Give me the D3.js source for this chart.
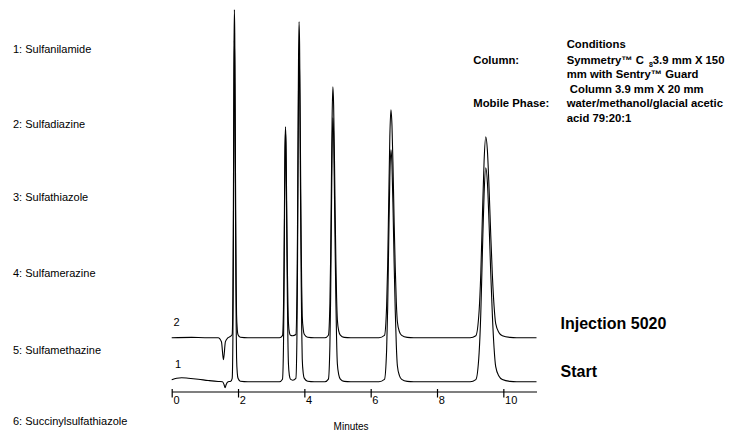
<!DOCTYPE html>
<html>
<head>
<meta charset="utf-8">
<script src="https://cdn.jsdelivr.net/npm/d3@7"></script>
<style>
  body { margin: 0; background: #fff; }
  text { font-family: "Liberation Sans", Arial, sans-serif; fill: #000; }
</style>
</head>
<body>
<div id="chart"></div>
<script>
const kSvgWidth = 730;
const kSvgHeight = 431;

// compounds listed on the left
const kCompounds = ["1: Sulfanilamide", "2: Sulfadiazine", "3: Sulfathiazole",
  "4: Sulfamerazine", "5: Sulfamethazine", "6: Succinylsulfathiazole"];

const kTickValues = [0, 2, 4, 6, 8, 10];
const kAxisLabel = "Minutes";
const kTraceLabels = ["1", "2"];
const kRunLabels = ["Start", "Injection 5020"];

const kCondTitle = "Conditions";
const kCondKeys = ["Column:", "Mobile Phase:"];
const kCondLines = ["mm with Sentry\u2122 Guard", " Column 3.9 mm X 20 mm",
  "water/methanol/glacial acetic", "acid 79:20:1"];

// trace 1 (Start): [minutes, signal]
const kTrace1 = [
  [0, 2], [0.15, 3.5], [0.3, 4], [0.5, 3.5], [0.8, 2.5], [1.1, 1.2], [1.4, 0.2], [1.53, 0],
  [1.58, -3], [1.61, -6], [1.64, -3], [1.7, 0], [1.78, 0.5],
  [1.824, 3.4], [1.846, 46], [1.857, 109], [1.868, 208], [1.879, 300], [1.89, 341],
  [1.901, 317], [1.912, 252], [1.923, 174], [1.934, 106], [1.945, 55], [1.956, 24],
  [1.978, 8.5], [2.0, 3.4], [2.07, 0.5], [2.3, 0], [3.25, 0],
  [3.34, 2.5], [3.37, 34], [3.385, 80], [3.4, 153], [3.415, 221], [3.43, 251],
  [3.445, 233], [3.46, 186], [3.475, 128], [3.49, 78], [3.505, 40], [3.52, 18],
  [3.55, 6], [3.58, 2.5], [3.65, 1.5],
  [3.744, 3.3], [3.776, 44], [3.792, 105], [3.808, 201], [3.824, 290], [3.84, 329],
  [3.856, 306], [3.872, 243], [3.888, 168], [3.904, 102], [3.92, 53], [3.936, 23],
  [3.968, 8], [4.0, 3.3], [4.1, 0.5], [4.3, 0], [4.62, 0],
  [4.725, 2.6], [4.77, 36], [4.7925, 84], [4.815, 161], [4.8375, 232], [4.86, 264],
  [4.8825, 246], [4.905, 195], [4.9275, 135], [4.95, 82], [4.9725, 42], [4.995, 18],
  [5.04, 6.6], [5.085, 2.6], [5.2, 0.3], [5.4, 0], [6.25, 0],
  [6.415, 2.3], [6.48, 31], [6.5125, 74], [6.545, 142], [6.5775, 204], [6.61, 232],
  [6.6425, 216], [6.675, 172], [6.7075, 118], [6.74, 72], [6.7725, 37], [6.805, 16],
  [6.87, 5.8], [6.935, 2.3], [7.1, 0.3], [7.3, 0], [9.0, 0],
  [9.17, 2.1], [9.27, 29], [9.32, 68], [9.37, 131], [9.42, 188], [9.47, 214],
  [9.52, 199], [9.57, 158], [9.62, 109], [9.67, 66], [9.72, 34], [9.77, 15],
  [9.87, 5.4], [9.97, 2.1], [10.2, 0.3], [10.4, 0], [11, 0]
];

// trace 2 (Injection 5020): [minutes, signal]
const kTrace2 = [
  [0, 0], [0.6, 0.3], [1.0, 0], [1.4, 0], [1.5, -4], [1.56, -22], [1.62, -4], [1.7, 0], [1.78, 1.5],
  [1.824, 3.3], [1.846, 44], [1.857, 105], [1.868, 200], [1.879, 289], [1.89, 328],
  [1.901, 305], [1.912, 243], [1.923, 167], [1.934, 102], [1.945, 52], [1.956, 23],
  [1.978, 8], [2.0, 3], [2.07, 0.5], [2.3, 0], [3.25, 0],
  [3.34, 2.1], [3.37, 28], [3.385, 68], [3.4, 129], [3.415, 186], [3.43, 211],
  [3.445, 196], [3.46, 156], [3.475, 108], [3.49, 65], [3.505, 34], [3.52, 15],
  [3.55, 5], [3.58, 2.5], [3.65, 2],
  [3.744, 3.2], [3.776, 43], [3.792, 101], [3.808, 193], [3.824, 278], [3.84, 316],
  [3.856, 294], [3.872, 234], [3.888, 161], [3.904, 98], [3.92, 51], [3.936, 22],
  [3.968, 8], [4.0, 3.2], [4.1, 0.5], [4.3, 0], [4.62, 0],
  [4.725, 2.5], [4.77, 34], [4.7925, 80], [4.815, 153], [4.8375, 221], [4.86, 251],
  [4.8825, 233], [4.905, 186], [4.9275, 128], [4.95, 78], [4.9725, 40], [4.995, 18],
  [5.04, 6.3], [5.085, 2.5], [5.2, 0.3], [5.4, 0], [6.25, 0],
  [6.415, 2.3], [6.48, 31], [6.5125, 73], [6.545, 139], [6.5775, 201], [6.61, 228],
  [6.6425, 212], [6.675, 169], [6.7075, 116], [6.74, 71], [6.7725, 36], [6.805, 16],
  [6.87, 5.7], [6.935, 2.3], [7.1, 0.3], [7.3, 0], [9.0, 0],
  [9.17, 2.0], [9.27, 27], [9.32, 64], [9.37, 123], [9.42, 177], [9.47, 201],
  [9.52, 187], [9.57, 149], [9.62, 103], [9.67, 62], [9.72, 32], [9.77, 14],
  [9.87, 5], [9.97, 2], [10.2, 0.3], [10.4, 0], [11, 0]
];

// layout
const kPlotLeft = 171.7;
const kPlotRight = 536.5;
const kAxisY = 391.5;
const kBase1 = 381.7;
const kTop = 9.7;
const kSignalMax = 372;
const kTrace2Offset = 44;
const kCompoundY = [53, 128, 201, 277, 354, 425];

function createSvg()
{
  return d3.select("#chart")
    .append("svg")
    .attr("width", kSvgWidth)
    .attr("height", kSvgHeight)
    .style("display", "block");
}

function drawChart(svg)
{
  const xScale = d3.scaleLinear()
    .domain([0, 11])
    .range([kPlotLeft, kPlotRight]);

  const yScale = d3.scaleLinear()
    .domain([0, kSignalMax])
    .range([kBase1, kTop]);

  // compound list
  svg.selectAll(".compound")
    .data(kCompounds)
    .enter()
    .append("text")
    .attr("class", "compound")
    .attr("x", 13)
    .attr("y", (d, i) => kCompoundY[i])
    .style("font-size", "11px")
    .text(d => d);

  // traces
  const traces = [
    {data: kTrace1, offset: 0},
    {data: kTrace2, offset: kTrace2Offset}
  ];
  traces.forEach(t => {
    const line = d3.line()
      .x(d => xScale(d[0]))
      .y(d => yScale(d[1] + t.offset))
      .curve(d3.curveMonotoneX);
    svg.append("path")
      .datum(t.data)
      .attr("d", line)
      .attr("fill", "none")
      .attr("stroke", "#000")
      .attr("stroke-width", 1.1);
  });

  // axis
  const xAxis = d3.axisBottom(xScale)
    .tickValues(kTickValues)
    .tickSizeInner(6)
    .tickSizeOuter(0)
    .tickFormat(d3.format("d"));

  const ax = svg.append("g")
    .attr("transform", `translate(0, ${kAxisY})`)
    .call(xAxis);
  ax.select(".domain").attr("stroke", "#000").attr("stroke-width", 1.2);
  ax.selectAll(".tick line").attr("y1", -2.5).attr("stroke", "#000").attr("stroke-width", 1.2);
  ax.selectAll(".tick text")
    .attr("text-anchor", "start")
    .attr("x", 1.2)
    .attr("y", 12)
    .attr("dy", 0)
    .style("font-family", "'Liberation Sans', Arial, sans-serif")
    .style("font-size", "11px")
    .attr("fill", "#000");

  svg.append("text")
    .attr("x", (xScale(0) + xScale(11)) / 2 - 3)
    .attr("y", 430)
    .attr("text-anchor", "middle")
    .style("font-size", "10px")
    .text(kAxisLabel);

  // trace numbers
  svg.append("text").attr("x", 175).attr("y", 368.3)
    .style("font-size", "11px").text(kTraceLabels[0]);
  svg.append("text").attr("x", 173.5).attr("y", 325.7)
    .style("font-size", "11px").text(kTraceLabels[1]);

  // run labels
  svg.append("text").attr("x", 560.5).attr("y", 376.7)
    .style("font-size", "16px").style("font-weight", "bold").text(kRunLabels[0]);
  svg.append("text").attr("x", 560.5).attr("y", 329.3)
    .style("font-size", "16px").style("font-weight", "bold").text(kRunLabels[1]);

  // conditions block
  const cond = svg.append("g")
    .style("font-size", "11.3px")
    .style("font-weight", "bold");
  const valX = 566.7;
  const keyX = 473.3;

  cond.append("text").attr("x", valX).attr("y", 48).text(kCondTitle);
  cond.append("text").attr("x", keyX).attr("y", 63.5).text(kCondKeys[0]);

  const sym = cond.append("text").attr("x", valX).attr("y", 63.5);
  sym.append("tspan").text("Symmetry\u2122 C");
  sym.append("tspan").attr("dx", 5).attr("dy", 3).style("font-size", "7px").text("8");
  sym.append("tspan").attr("dy", -3).text("3.9 mm X 150");

  cond.append("text").attr("x", valX).attr("y", 78).text(kCondLines[0]);
  cond.append("text").attr("x", valX).attr("y", 92.5).text(kCondLines[1])
    .style("white-space", "pre");
  cond.append("text").attr("x", keyX).attr("y", 107).text(kCondKeys[1]);
  cond.append("text").attr("x", valX).attr("y", 107).text(kCondLines[2]);
  cond.append("text").attr("x", valX).attr("y", 121.5).text(kCondLines[3]);
}

document.addEventListener('DOMContentLoaded', () => {
  const svg = createSvg();
  drawChart(svg);
});
</script>
</body>
</html>
